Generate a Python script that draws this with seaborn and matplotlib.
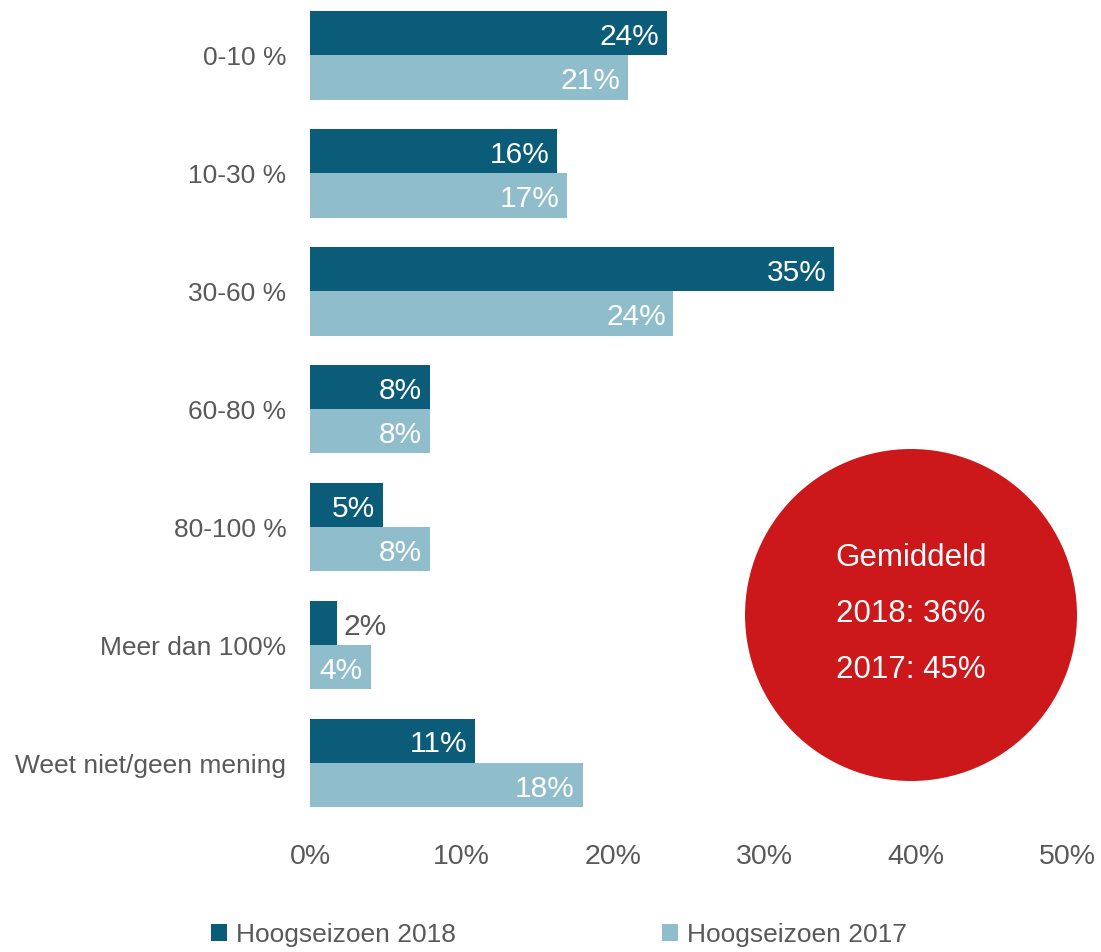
import numpy as np
import pandas as pd
import matplotlib
matplotlib.use("Agg")
import matplotlib.pyplot as plt
from matplotlib.patches import Circle, Patch
import seaborn as sns

# Chart data
categories = ["0-10 %", "10-30 %", "30-60 %", "60-80 %", "80-100 %",
              "Meer dan 100%", "Weet niet/geen mening"]
season_2018 = [23.6, 16.3, 34.6, 7.9, 4.8, 1.8, 10.9]
season_2017 = [21.0, 17.0, 24.0, 7.9, 7.9, 4.0, 18.0]
series_names = ["Hoogseizoen 2018", "Hoogseizoen 2017"]
avg_lines = ["Gemiddeld", "2018: 36%", "2017: 45%"]

dark = "#0B5C78"
light = "#8FBDCB"
red = "#CC181A"
grey = "#595959"

df = pd.DataFrame({
    "categorie": categories * 2,
    "waarde": season_2018 + season_2017,
    "reeks": [series_names[0]] * len(categories) + [series_names[1]] * len(categories),
})

sns.set_theme(style="white")
plt.rcParams["font.family"] = ["Liberation Sans", "DejaVu Sans"]

fig = plt.figure(figsize=(11.01, 9.52), dpi=100)
W, H = 1101, 952
# axes in pixel coords: x 310..1067, y 0..822
ax = fig.add_axes([310 / W, (H - 822) / H, (1067 - 310) / W, 822 / H])

sns.barplot(data=df, y="categorie", x="waarde", hue="reeks", orient="h",
            palette=[dark, light], width=0.75, saturation=1, ax=ax,
            legend=False, linewidth=0)

ax.set_xlim(0, 50)
ax.set_ylim(6.5, -0.47)
ax.set_xticks(np.arange(0, 51, 10))
ax.set_xticklabels([f"{v}%" for v in range(0, 51, 10)])
ax.tick_params(axis="x", labelsize=20.5, colors=grey, pad=16, length=0)
ax.tick_params(axis="y", labelsize=19, colors=grey, pad=17, length=0)
ax.set_xlabel("")
ax.set_ylabel("")
for s in ax.spines.values():
    s.set_visible(False)

# value labels
for cont in ax.containers:
    for bar in cont:
        w = bar.get_width()
        yc = bar.get_y() + bar.get_height() / 2 + 0.03
        txt = f"{round(w):.0f}%"
        if w < 3:
            ax.text(w + 0.4, yc, txt, ha="left", va="center", fontsize=21.5, color=grey)
        else:
            ax.text(w - 0.5, yc, txt, ha="right", va="center", fontsize=21.5, color="white")

# average circle
circ = Circle((9.11, (H - 615) / 100), 1.66, transform=fig.dpi_scale_trans,
              facecolor=red, edgecolor="none")
fig.patches.append(circ)
for i, line in enumerate(avg_lines):
    fig.text(911 / W, (H - (558 + 56 * i)) / H, line, ha="center", va="center",
             fontsize=22.5, color="white")

# legend
handles = [Patch(facecolor=dark, edgecolor="none"), Patch(facecolor=light, edgecolor="none")]
fig.legend(handles, series_names, loc="center", bbox_to_anchor=(559 / W, 17 / H),
           ncol=2, frameon=False, fontsize=19, labelcolor=grey,
           handlelength=0.6, handleheight=0.6, handletextpad=0.35, columnspacing=7.8)

fig.savefig("out.png", dpi=100)
